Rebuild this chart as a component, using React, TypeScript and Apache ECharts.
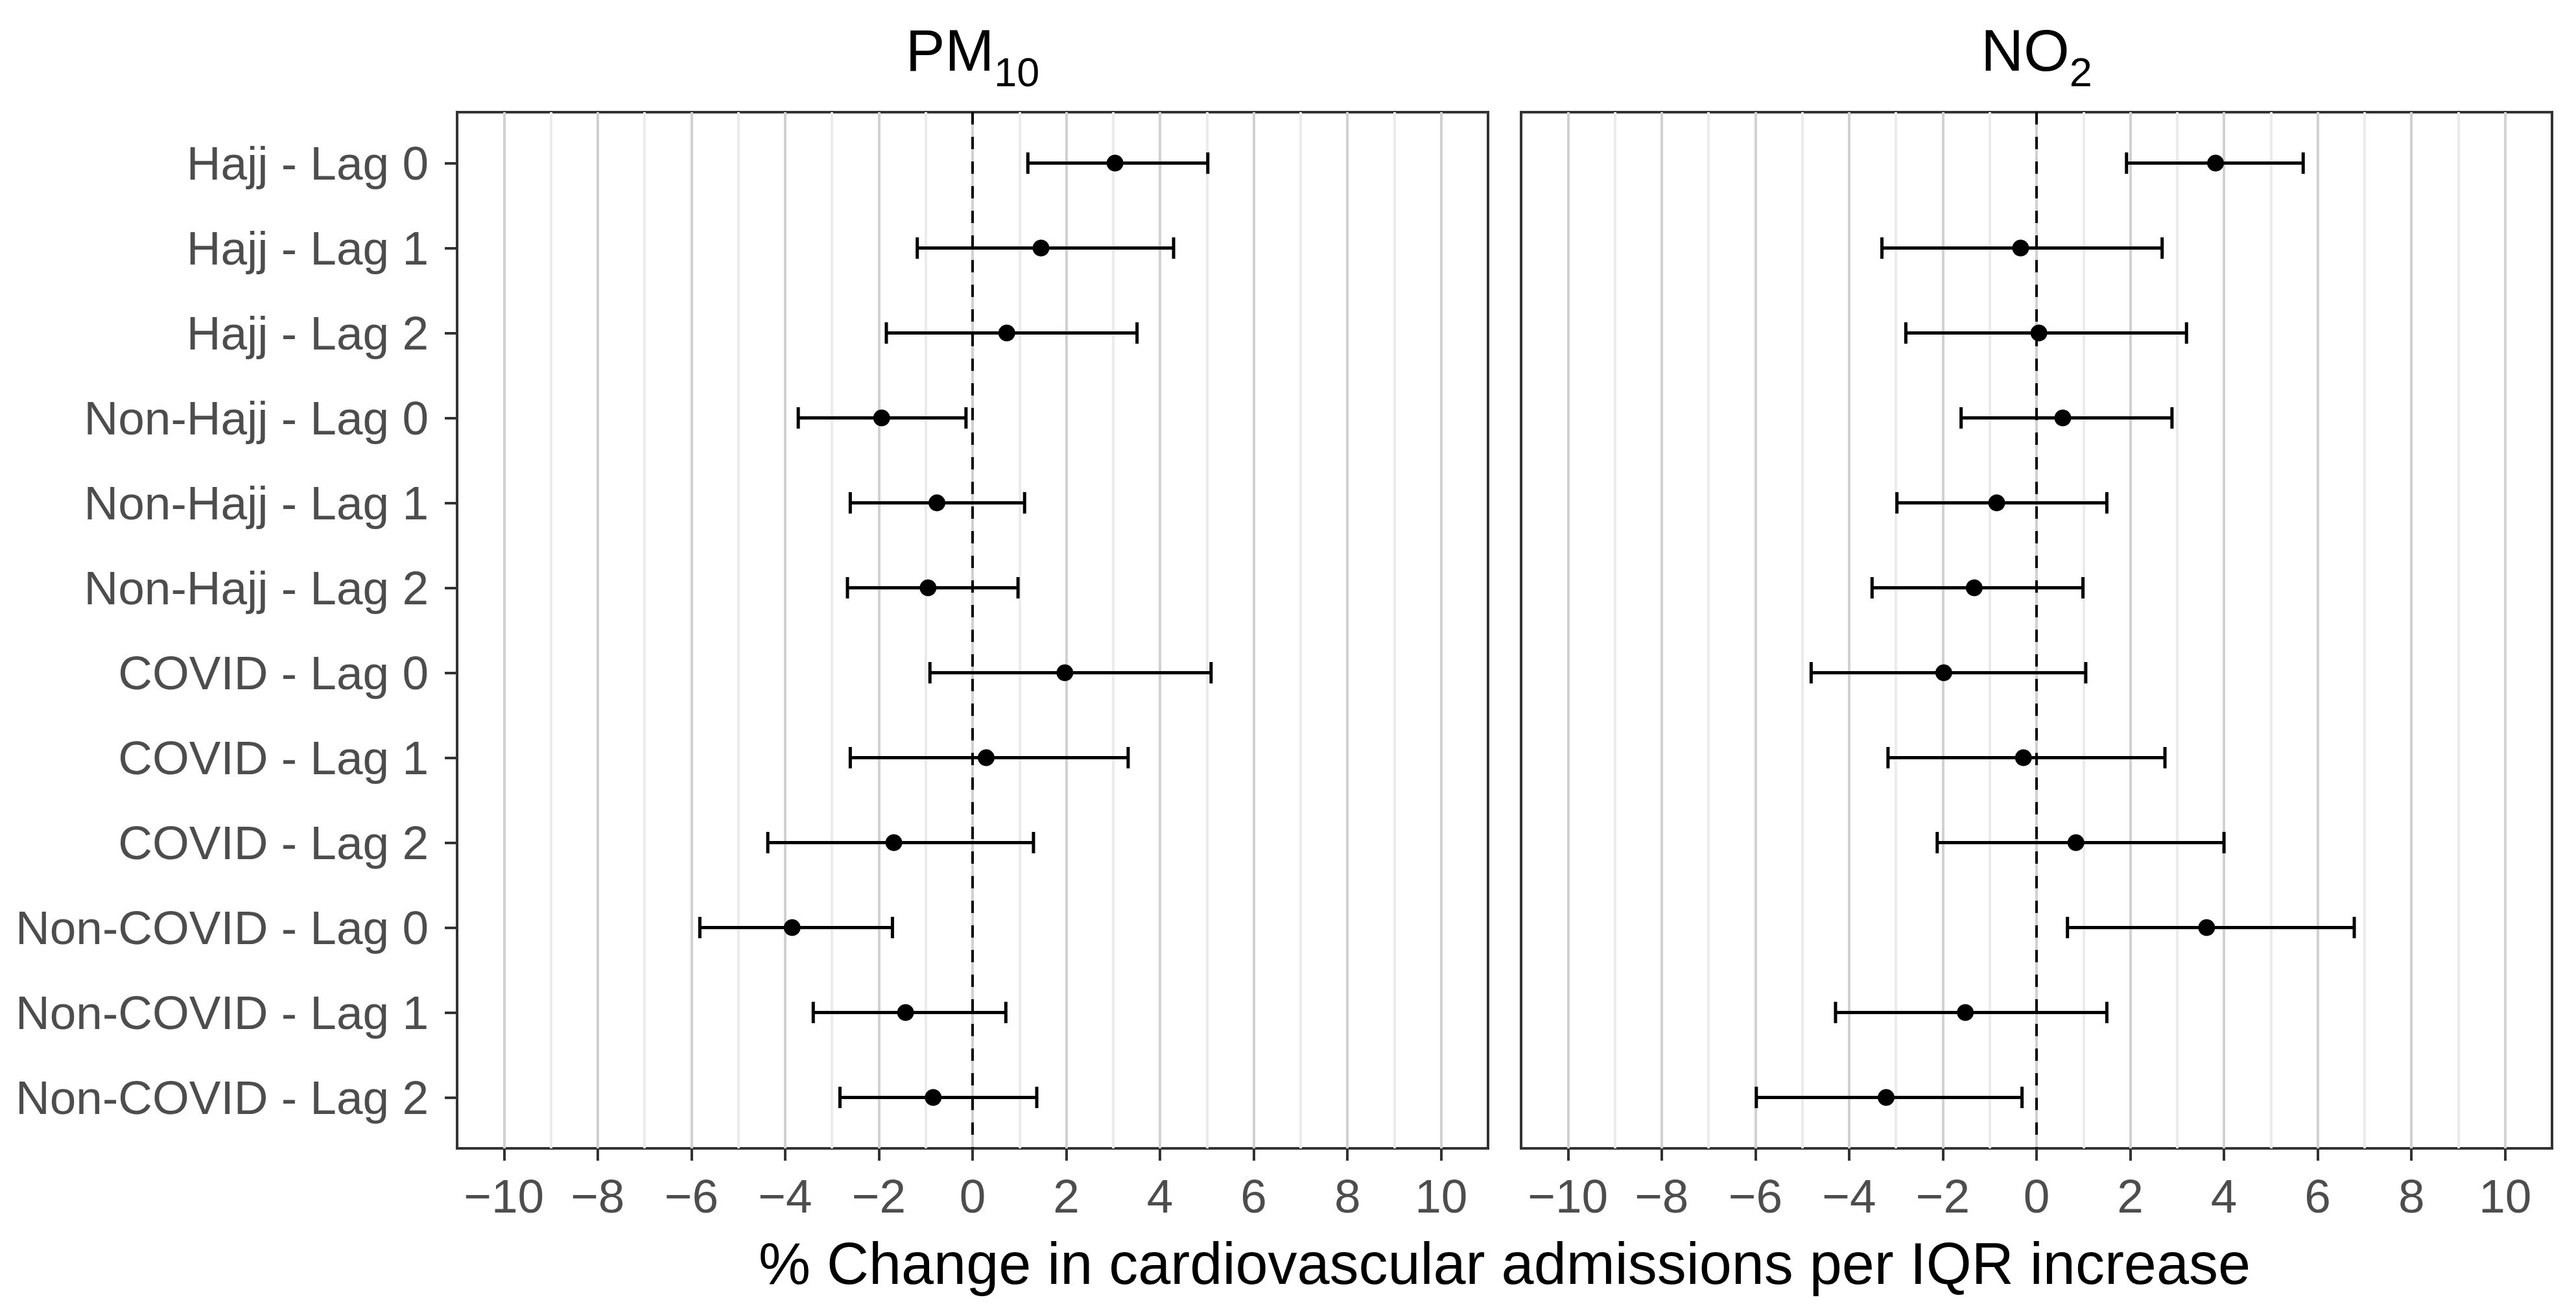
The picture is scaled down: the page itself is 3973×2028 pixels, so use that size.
import React, { useEffect, useRef } from "react";
import * as echarts from "echarts";

const categories = [
  "Hajj - Lag 0", "Hajj - Lag 1", "Hajj - Lag 2",
  "Non-Hajj - Lag 0", "Non-Hajj - Lag 1", "Non-Hajj - Lag 2",
  "COVID - Lag 0", "COVID - Lag 1", "COVID - Lag 2",
  "Non-COVID - Lag 0", "Non-COVID - Lag 1", "Non-COVID - Lag 2",
];

const pm10Est = [3.04, 1.46, 0.73, -1.94, -0.76, -0.95, 1.97, 0.29, -1.68, -3.85, -1.43, -0.84];
const pm10Lo = [1.18, -1.18, -1.84, -3.72, -2.61, -2.67, -0.91, -2.61, -4.37, -5.82, -3.40, -2.83];
const pm10Hi = [5.02, 4.29, 3.51, -0.14, 1.11, 0.97, 5.09, 3.32, 1.30, -1.71, 0.71, 1.37];

const no2Est = [3.82, -0.34, 0.05, 0.56, -0.85, -1.33, -1.98, -0.28, 0.84, 3.63, -1.52, -3.21];
const no2Lo = [1.92, -3.30, -2.79, -1.61, -2.98, -3.51, -4.81, -3.17, -2.12, 0.66, -4.29, -5.98];
const no2Hi = [5.69, 2.68, 3.20, 2.89, 1.50, 0.99, 1.05, 2.74, 4.00, 6.78, 1.50, -0.31];

const xTicks = [-10, -8, -6, -4, -2, 0, 2, 4, 6, 8, 10];
const panelMain = ["PM", "NO"];
const panelSub = ["10", "2"];
const xAxisTitle = "% Change in cardiovascular admissions per IQR increase";

const W = 3973;
const H = 2028;
const FONT = "'Liberation Sans', Arial, sans-serif";
const GRID_TOP = 173;
const GRID_H = 1598;
const GRID_W = 1590;
const GRID_LEFTS = [705, 2346];
const TITLE_SIZE = 91;
const SUB_SIZE = 63;
const AXIS_TEXT = 73;

const catIdx = categories.map((_, i) => i);

function buildErrData(lo: number[], hi: number[]) {
  return lo.map((l, i) => [l, hi[i], i]);
}

function buildPointData(est: number[]) {
  return est.map((e, i) => [e, i]);
}

export default function App() {
  const ref = useRef<HTMLDivElement>(null);

  useEffect(() => {
    document.body.style.margin = "0";
    if (!ref.current) return;
    const chart = echarts.init(ref.current, undefined, { renderer: "svg" });

    const grids = GRID_LEFTS.map((left) => ({
      left,
      top: GRID_TOP,
      width: GRID_W,
      height: GRID_H,
      show: true,
      borderColor: "#333333",
      borderWidth: 4,
      backgroundColor: "transparent",
      containLabel: false,
    }));

    // visible axes: ticks and labels at even values
    const xAxesVisible = GRID_LEFTS.map((_, gi) => ({
      type: "value",
      gridIndex: gi,
      position: "bottom",
      min: -11,
      max: 11,
      interval: 1,
      axisLine: { show: false, onZero: false },
      axisTick: {
        show: true,
        customValues: xTicks,
        length: 19,
        lineStyle: { color: "#333333", width: 4 },
      },
      axisLabel: {
        show: true,
        customValues: xTicks,
        margin: 37,
        fontSize: AXIS_TEXT,
        fontFamily: FONT,
        color: "#4d4d4d",
        formatter: (v: number) => String(v).replace("-", "\u2212"),
      },
      splitLine: { show: false },
    }));

    // grid-line axes: major (even) and minor (odd) lines
    const xAxesGrid = GRID_LEFTS.map((_, gi) => ({
      type: "value",
      gridIndex: gi,
      position: "bottom",
      min: -11,
      max: 11,
      interval: 1,
      axisLine: { show: false, onZero: false },
      axisTick: { show: false },
      axisLabel: { show: false },
      splitLine: {
        show: true,
        showMinLine: false,
        showMaxLine: false,
        lineStyle: { color: ["#d1d1d1", "#ebebeb"], width: 4 },
      },
    }));

    const yAxes = GRID_LEFTS.map((_, gi) => ({
      type: "value",
      gridIndex: gi,
      min: -0.6,
      max: 11.6,
      inverse: true,
      axisLine: { show: false, onZero: false },
      splitLine: { show: false },
      axisTick: {
        show: gi === 0,
        customValues: catIdx,
        length: 19,
        lineStyle: { color: "#333333", width: 4 },
      },
      axisLabel: {
        show: gi === 0,
        customValues: catIdx,
        margin: 44,
        fontSize: AXIS_TEXT,
        fontFamily: FONT,
        color: "#4d4d4d",
        formatter: (v: number) => categories[Math.round(v)] ?? "",
      },
    }));

    const errRender = (params: any, api: any) => {
      const y = api.value(2);
      const a = api.coord([api.value(0), y]);
      const b = api.coord([api.value(1), y]);
      const h = 16.5;
      const style = { stroke: "#000000", lineWidth: 5, fill: "none" };
      return {
        type: "group",
        children: [
          { type: "line", shape: { x1: a[0], y1: a[1], x2: b[0], y2: b[1] }, style },
          { type: "line", shape: { x1: a[0], y1: a[1] - h, x2: a[0], y2: a[1] + h }, style },
          { type: "line", shape: { x1: b[0], y1: b[1] - h, x2: b[0], y2: b[1] + h }, style },
        ],
      };
    };

    const panels = [
      { est: pm10Est, lo: pm10Lo, hi: pm10Hi },
      { est: no2Est, lo: no2Lo, hi: no2Hi },
    ];

    const series: any[] = [];
    panels.forEach((p, gi) => {
      series.push({
        type: "line",
        xAxisIndex: gi,
        yAxisIndex: gi,
        data: [],
        silent: true,
        z: 1,
        markLine: {
          silent: true,
          symbol: ["none", "none"],
          label: { show: false },
          lineStyle: { color: "#000000", width: 4, type: [19, 19] },
          emphasis: { disabled: true },
          data: [{ xAxis: 0 }],
        },
      });
      series.push({
        type: "custom",
        xAxisIndex: gi,
        yAxisIndex: gi,
        renderItem: errRender,
        encode: { x: [0, 1], y: 2 },
        data: buildErrData(p.lo, p.hi),
        clip: false,
        z: 3,
      });
      series.push({
        type: "scatter",
        xAxisIndex: gi,
        yAxisIndex: gi,
        symbol: "circle",
        symbolSize: 26,
        itemStyle: { color: "#000000", opacity: 1 },
        data: buildPointData(p.est),
        z: 4,
      });
    });

    const graphics: any[] = [];
    GRID_LEFTS.forEach((left, gi) => {
      const center = left + GRID_W / 2;
      const mainW = TITLE_SIZE * 1.5;
      const subW = SUB_SIZE * (panelSub[gi].length === 2 ? 1.112 : 0.556);
      const anchor = center - (mainW + subW) / 2 + mainW;
      graphics.push({
        type: "text",
        x: anchor,
        y: 109 - 0.3465 * TITLE_SIZE,
        style: {
          text: panelMain[gi],
          fontSize: TITLE_SIZE,
          fontFamily: FONT,
          fill: "#000000",
          align: "right",
          verticalAlign: "middle",
        },
      });
      graphics.push({
        type: "text",
        x: anchor,
        y: 132.7 - 0.3465 * SUB_SIZE,
        style: {
          text: panelSub[gi],
          fontSize: SUB_SIZE,
          fontFamily: FONT,
          fill: "#000000",
          align: "left",
          verticalAlign: "middle",
        },
      });
    });
    graphics.push({
      type: "text",
      x: (GRID_LEFTS[0] + GRID_LEFTS[1] + GRID_W) / 2,
      y: 1980 - 0.3465 * 90,
      style: {
        text: xAxisTitle,
        fontSize: 90,
        fontFamily: FONT,
        fill: "#000000",
        align: "center",
        verticalAlign: "middle",
      },
    });

    chart.setOption({
      animation: false,
      backgroundColor: "#ffffff",
      grid: grids,
      xAxis: [...xAxesVisible, ...xAxesGrid],
      yAxis: yAxes,
      series,
      graphic: graphics,
    });

    return () => chart.dispose();
  }, []);

  return <div ref={ref} style={{ width: W, height: H }} />;
}
